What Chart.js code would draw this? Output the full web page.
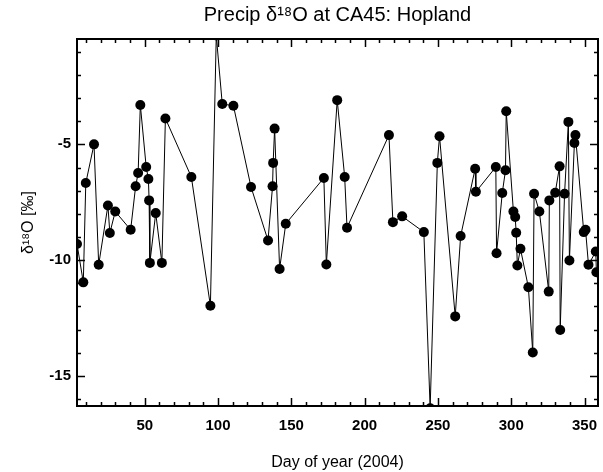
<!DOCTYPE html>
<html>
<head>
<meta charset="utf-8">
<script src="https://cdn.jsdelivr.net/npm/chart.js@4.4.1/dist/chart.umd.min.js"></script>
<style>
  html, body { margin: 0; padding: 0; background: #fff; }
  #wrap { width: 603px; height: 472px; }
</style>
</head>
<body>
<div id="wrap"><canvas id="c" width="603" height="472"></canvas></div>
<script>
const titleText = "Precip \u03B4\u00B9\u2078O at CA45: Hopland";
const xTitle = "Day of year (2004)";
const yTitle = "\u03B4\u00B9\u2078O [\u2030]";

const days = [3.8, 8.1, 9.8, 15.4, 18.6, 24.9, 26.2, 29.9, 40.4, 43.8, 45.5, 47.0, 51.0, 52.5, 53.0, 53.5, 57.5, 61.7, 64.1, 81.8, 94.8, 98.8, 102.9, 110.5, 122.5, 134.1, 137.2, 137.6, 138.6, 142.0, 146.2, 172.2, 173.9, 181.3, 186.4, 188.0, 216.6, 219.3, 225.6, 240.4, 244.7, 249.6, 251.1, 261.8, 265.5, 275.4, 275.9, 289.5, 290.0, 293.9, 296.1, 296.6, 301.5, 302.7, 303.4, 304.2, 306.3, 311.7, 314.7, 315.6, 319.2, 325.6, 326.0, 330.0, 333.0, 333.4, 336.4, 339.0, 339.7, 343.1, 343.8, 349.5, 350.7, 352.7, 357.7, 358.1];
const d18O = [-9.3, -10.96, -6.67, -5.0, -10.2, -7.64, -8.83, -7.9, -8.69, -6.81, -6.24, -3.3, -5.98, -6.5, -7.42, -10.12, -7.97, -10.12, -3.88, -6.41, -11.97, -0.3, -3.26, -3.33, -6.84, -9.15, -6.81, -5.8, -4.32, -10.38, -8.43, -6.45, -10.19, -3.09, -6.41, -8.6, -4.6, -8.36, -8.11, -8.79, -16.4, -5.8, -4.65, -12.43, -8.96, -6.05, -7.05, -5.98, -9.7, -7.1, -6.12, -3.57, -7.9, -8.14, -8.82, -10.23, -9.51, -11.17, -13.99, -7.13, -7.9, -11.36, -7.42, -7.09, -5.95, -13.02, -7.13, -4.03, -10.02, -4.94, -4.6, -8.79, -8.69, -10.2, -9.63, -10.52];

const xTickValues = [50, 100, 150, 200, 250, 300, 350];
const yTickValues = [-15, -10, -5];
const xRange = [3.8, 359.2];
const yRange = [-16.3, -0.45];

const points = days.map((d, i) => ({ x: d, y: d18O[i] }));

const FONT = "'Liberation Sans', Arial, sans-serif";

const boxPlugin = {
  id: 'idlBox',
  afterDatasetsDraw(chart) {
    const { ctx, chartArea: a, scales: { x, y } } = chart;
    ctx.save();
    ctx.strokeStyle = '#000';
    ctx.lineWidth = 1.5;
    ctx.beginPath();
    for (let v = Math.ceil(x.min / 10) * 10; v <= x.max; v += 10) {
      const px = Math.round(x.getPixelForValue(v)) + 0.5;
      const len = (v % 50 === 0) ? 8 : 4;
      ctx.moveTo(px, a.bottom); ctx.lineTo(px, a.bottom - len);
      ctx.moveTo(px, a.top); ctx.lineTo(px, a.top + len);
    }
    for (let v = Math.ceil(y.min); v <= y.max; v += 1) {
      const py = Math.round(y.getPixelForValue(v)) + 0.5;
      const len = (v % 5 === 0) ? 8 : 4;
      ctx.moveTo(a.left, py); ctx.lineTo(a.left + len, py);
      ctx.moveTo(a.right, py); ctx.lineTo(a.right - len, py);
    }
    ctx.stroke();
    ctx.lineWidth = 2;
    ctx.strokeRect(a.left, a.top, a.right - a.left, a.bottom - a.top);
    ctx.restore();
  }
};

new Chart(document.getElementById('c'), {
  type: 'line',
  data: {
    datasets: [{
      data: points,
      borderColor: '#000',
      backgroundColor: '#000',
      borderWidth: 1,
      pointRadius: 5,
      pointBackgroundColor: '#000',
      pointBorderWidth: 0,
      tension: 0,
      clip: 0
    }]
  },
  options: {
    responsive: false,
    animation: false,
    devicePixelRatio: 1,
    layout: { padding: { left: 0, right: 4.5, top: 0, bottom: 0 } },
    plugins: {
      legend: { display: false },
      tooltip: { enabled: false },
      title: {
        display: true,
        text: titleText,
        fullSize: false,
        color: '#000',
        font: { family: FONT, size: 20, weight: 'normal' },
        padding: { top: 3, bottom: 12 }
      }
    },
    scales: {
      x: {
        type: 'linear',
        min: xRange[0],
        max: xRange[1],
        grid: { display: false, drawTicks: false },
        border: { display: false },
        afterBuildTicks(s) { s.ticks = xTickValues.map(v => ({ value: v })); },
        afterFit(s) { s.height = 66; s.paddingLeft = 0; s.paddingRight = 0; },
        ticks: {
          color: '#000',
          padding: 11,
          maxRotation: 0,
          font: { family: FONT, size: 15, weight: 'bold' }
        },
        title: {
          display: true,
          text: xTitle,
          color: '#000',
          font: { family: FONT, size: 16, weight: 'normal' },
          padding: { top: 6.5, bottom: 0 }
        }
      },
      y: {
        type: 'linear',
        min: yRange[0],
        max: yRange[1],
        grid: { display: false, drawTicks: false },
        border: { display: false },
        afterBuildTicks(s) { s.ticks = yTickValues.map(v => ({ value: v })); },
        afterFit(s) { s.width = 77; s.paddingTop = 0; s.paddingBottom = 0; },
        ticks: {
          color: '#000',
          padding: 6,
          font: { family: FONT, size: 15, weight: 'bold' }
        },
        title: {
          display: true,
          text: yTitle,
          color: '#000',
          font: { family: FONT, size: 16, weight: 'normal' },
          padding: { top: 19, bottom: 0 }
        }
      }
    }
  },
  plugins: [boxPlugin]
});
</script>
</body>
</html>
